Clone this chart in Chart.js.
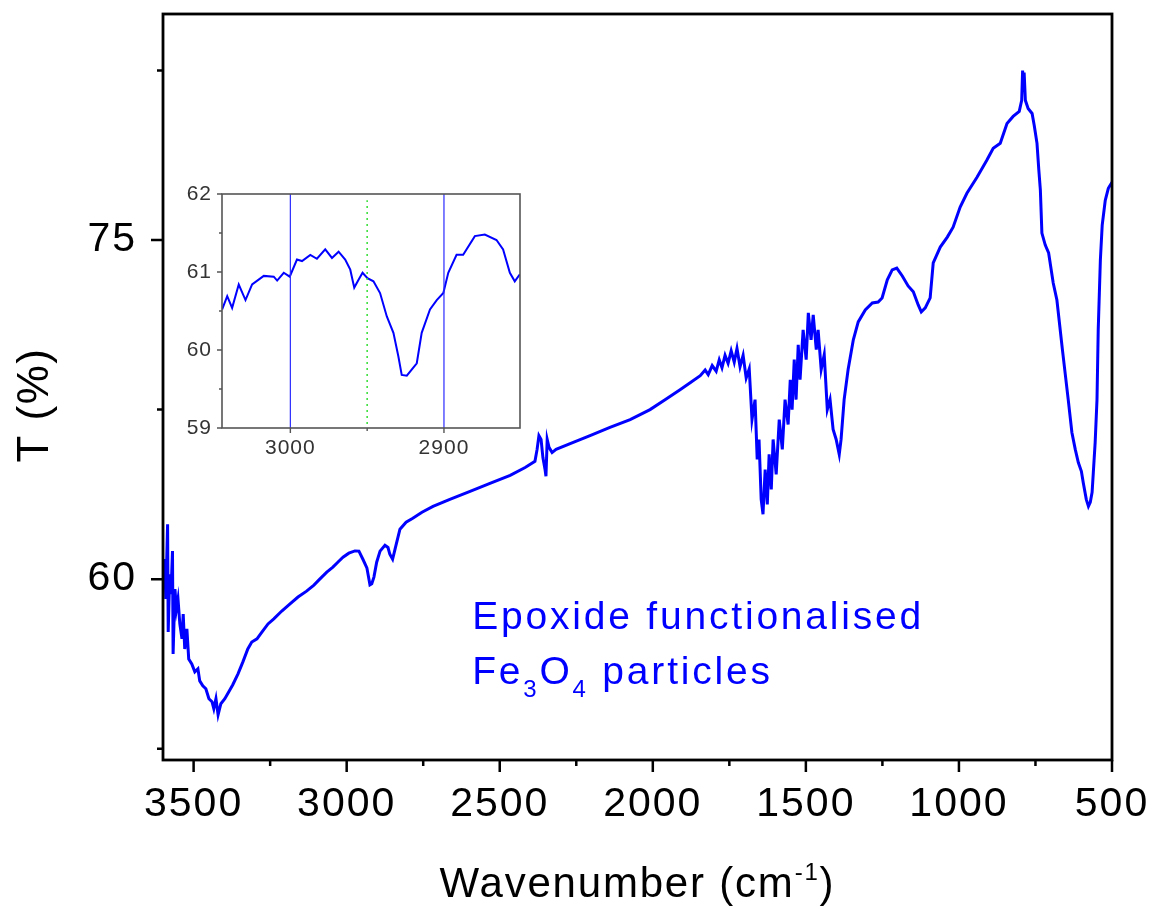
<!DOCTYPE html>
<html>
<head>
<meta charset="utf-8">
<title>FTIR spectrum – epoxide functionalised Fe3O4</title>
<script src="https://cdn.jsdelivr.net/npm/chart.js@4.4.0/dist/chart.umd.min.js"></script>
<style>
  html, body { margin: 0; padding: 0; background: #ffffff; }
  #wrap { position: relative; width: 1156px; height: 909px; }
  #main { position: absolute; left: 0; top: 0; }
  #inset { position: absolute; left: 170px; top: 180px; }
</style>
</head>
<body>
<div id="wrap">
  <canvas id="main" width="1156" height="909"></canvas>
  <canvas id="inset" width="360" height="280"></canvas>
</div>
<script>
// ---- Full spectrum: wavenumber (cm-1) and transmittance (%) ----
const wavenumber = [
  3600,3594,3591,3585,3583,3578,3574,3569,3567,3561,
  3556,3551,3545,3538,3534,3529,3522,3516,3506,3496,
  3486,3480,3470,3460,3450,3440,3434,3427,3420,3411,
  3398,3385,3372,3355,3339,3323,3310,3293,3277,3257,
  3238,3212,3186,3159,3131,3107,3088,3065,3045,3029,
  3012,2993,2973,2960,2947,2934,2924,2918,2911,2902,
  2891,2875,2865,2859,2850,2842,2826,2806,2784,2754,
  2718,2663,2597,2532,2466,2417,2385,2378,2372,2365,
  2359,2352,2349,2345,2339,2329,2316,2270,2205,2140,
  2074,2009,1960,1911,1878,1845,1829,1819,1806,1793,
  1783,1774,1764,1754,1744,1734,1725,1715,1705,1695,
  1685,1676,1666,1659,1653,1646,1640,1633,1626,1620,
  1613,1607,1597,1587,1577,1568,1558,1551,1545,1538,
  1532,1525,1519,1509,1499,1492,1483,1476,1466,1460,
  1450,1440,1430,1421,1411,1401,1391,1385,1375,1362,
  1345,1329,1306,1283,1264,1251,1234,1218,1203,1185,
  1166,1149,1133,1123,1110,1094,1084,1061,1038,1019,
  996,974,941,909,888,865,843,823,803,795,
  792,789,787,783,774,761,754,745,739,734,
  729,718,707,692,680,662,643,631,620,610,
  600,594,584,577,571,565,561,555,549,545,
  538,532,522,512,500
];
const transmittance = [
  59.56,60.89,59.12,62.43,57.66,60.22,59.34,61.24,56.69,59.56,
  58.68,59.12,58.02,57.36,58.46,56.91,57.80,56.47,56.25,55.90,
  56.03,55.50,55.28,55.15,54.71,54.58,54.27,54.71,54.00,54.49,
  54.71,55.02,55.33,55.81,56.34,56.91,57.22,57.36,57.66,58.02,
  58.24,58.59,58.90,59.21,59.47,59.74,60.00,60.31,60.53,60.75,
  60.97,61.15,61.25,61.24,60.88,60.50,59.75,59.80,60.09,60.75,
  61.24,61.50,61.40,61.10,60.88,61.33,62.21,62.52,62.69,62.96,
  63.22,63.53,63.88,64.24,64.59,64.94,65.21,65.74,66.35,66.18,
  65.38,64.85,64.55,66.18,65.83,65.60,65.74,66.00,66.35,66.71,
  67.06,67.50,67.94,68.38,68.69,69.00,69.25,69.05,69.45,69.20,
  69.70,69.35,69.90,69.55,70.10,69.60,70.20,69.40,69.90,68.90,
  69.30,67.06,67.94,65.30,66.18,63.53,62.87,64.85,63.31,65.52,
  63.97,66.18,64.63,67.06,65.74,67.94,66.84,68.82,67.50,69.71,
  67.94,70.37,68.82,71.03,69.71,71.78,70.59,71.69,70.15,71.03,
  69.27,69.93,67.50,67.94,66.62,66.18,65.52,66.18,67.94,69.27,
  70.59,71.38,71.91,72.22,72.26,72.44,73.24,73.68,73.76,73.41,
  72.97,72.71,72.13,71.82,72.00,72.44,73.99,74.69,75.13,75.57,
  76.46,77.07,77.78,78.53,79.06,79.28,80.16,80.47,80.69,81.18,
  82.50,81.62,82.41,81.18,80.82,80.60,80.07,79.28,78.09,77.21,
  75.31,74.78,74.43,73.10,72.35,70.15,67.94,66.49,65.74,65.16,
  64.77,64.28,63.53,63.22,63.40,63.84,64.72,66.05,67.94,71.03,
  74.12,75.66,76.76,77.29,77.56
];

// Main axis ticks
const xMajorTicks = [3500, 3000, 2500, 2000, 1500, 1000, 500];
const xMinorTicks = [3250, 2750, 2250, 1750, 1250, 750];
const yMajorTicks = [60, 75];
const yMinorTicks = [52.5, 67.5, 82.5];

// ---- C–H stretching region (inset) ----
const insetWavenumber = [
  3044.4,3041.1,3037.9,3033.6,3029.2,3024.9,3017.3,3010.8,3008.6,3004.3,
  3000.4,2995.7,2992.4,2987.0,2982.7,2977.3,2972.9,2968.6,2964.3,2961.0,
  2958.4,2955.6,2953.0,2949.8,2945.9,2941.6,2937.2,2932.9,2929.7,2927.5,
  2924.2,2917.7,2914.5,2909.1,2904.7,2900.4,2897.2,2891.8,2887.5,2879.9,
  2873.4,2865.8,2861.5,2857.1,2853.9,2850.6
];
const insetT = [
  60.52,60.69,60.54,60.84,60.64,60.84,60.95,60.94,60.89,60.99,
  60.94,61.16,61.14,61.22,61.17,61.29,61.18,61.26,61.16,61.03,
  60.80,60.90,60.99,60.92,60.88,60.73,60.43,60.22,59.92,59.68,
  59.67,59.83,60.22,60.52,60.64,60.73,60.99,61.22,61.22,61.46,
  61.48,61.41,61.29,60.99,60.88,60.97
];
const insetXMajorTicks = [3000, 2900];
const insetXMinorTicks = [2950];
const insetYMajorTicks = [59, 60, 61, 62];
const insetYMinorTicks = [59.5, 60.5, 61.5];
const insetMarkerLines = [3000, 2900];   // solid blue guides
const insetCentreLine = 2950;            // dotted green guide

// ---- Text ----
const xTitleRuns = [
  { text: 'Wavenumber (cm', size: 42 },
  { text: '-1', size: 24, dy: -17 },
  { text: ')', size: 42 }
];
const yTitle = 'T (%)';
const noteLine1 = [{ text: 'Epoxide functionalised', size: 39 }];
const noteLine2 = [
  { text: 'Fe', size: 39 },
  { text: '3', size: 24, dy: 13 },
  { text: 'O', size: 39 },
  { text: '4', size: 24, dy: 13 },
  { text: ' particles', size: 39 }
];

const FONT = "'Liberation Sans', Arial, Helvetica, sans-serif";
const BLUE = '#0000ff';

function toPoints(xs, ys) { return xs.map((v, i) => ({ x: v, y: ys[i] })); }
function fixedTicks(values) {
  return scale => { scale.ticks = values.slice().sort((a, b) => a - b).map(v => ({ value: v })); };
}
// fixed axis thickness, no extra room reserved for edge labels
function fixedSize(prop, size) {
  return scale => {
    scale[prop] = size;
    scale.paddingTop = 0; scale.paddingBottom = 0;
    scale.paddingLeft = 0; scale.paddingRight = 0;
  };
}

// writes a sequence of text runs (for super/subscripts)
function drawRuns(ctx, runs, x, y, align, spacing) {
  ctx.letterSpacing = spacing + 'px';
  let total = 0;
  runs.forEach(r => { ctx.font = r.size + 'px ' + FONT; total += ctx.measureText(r.text).width; });
  let cx = align === 'center' ? x - total / 2 : x;
  ctx.textAlign = 'left';
  ctx.textBaseline = 'alphabetic';
  runs.forEach(r => {
    ctx.font = r.size + 'px ' + FONT;
    ctx.fillText(r.text, cx, y + (r.dy || 0));
    cx += ctx.measureText(r.text).width;
  });
}

// frame round the plot area plus outward tick marks
const frameTicks = {
  id: 'frameTicks',
  beforeDraw(chart, args, o) { chart.ctx.letterSpacing = o.labelSpacing + 'px'; },
  afterDraw(chart, args, o) {
    const { ctx, chartArea: a } = chart;
    const sx = chart.scales.x, sy = chart.scales.y;
    ctx.save();
    ctx.strokeStyle = o.color;
    ctx.lineWidth = o.tickWidth;
    ctx.beginPath();
    const xt = (vals, len) => vals.forEach(v => {
      const p = sx.getPixelForValue(v);
      ctx.moveTo(p, a.bottom); ctx.lineTo(p, a.bottom + len);
    });
    const yt = (vals, len) => vals.forEach(v => {
      const p = sy.getPixelForValue(v);
      ctx.moveTo(a.left, p); ctx.lineTo(a.left - len, p);
    });
    xt(o.xMajor, o.major); xt(o.xMinor, o.minor);
    yt(o.yMajor, o.major); yt(o.yMinor, o.minor);
    ctx.stroke();
    ctx.lineWidth = o.frameWidth;
    ctx.strokeRect(a.left, a.top, a.right - a.left, a.bottom - a.top);
    ctx.restore();
  }
};

// axis titles and the sample note on the main chart
const mainText = {
  id: 'mainText',
  afterDraw(chart) {
    const { ctx, chartArea: a } = chart;
    const sx = chart.scales.x, sy = chart.scales.y;
    ctx.save();
    ctx.fillStyle = '#000000';
    drawRuns(ctx, xTitleRuns, (a.left + a.right) / 2, 897, 'center', 1.8);
    ctx.save();
    ctx.translate(48, 405);
    ctx.rotate(-Math.PI / 2);
    drawRuns(ctx, [{ text: yTitle, size: 44 }], 0, 0, 'center', 1.5);
    ctx.restore();
    ctx.fillStyle = BLUE;
    const nx = sx.getPixelForValue(2590);
    const ny = sy.getPixelForValue(57.8);
    drawRuns(ctx, noteLine1, nx, ny, 'left', 2.8);
    drawRuns(ctx, noteLine2, nx, ny + 55, 'left', 2.8);
    ctx.restore();
  }
};

new Chart(document.getElementById('main'), {
  type: 'scatter',
  data: {
    datasets: [{
      data: toPoints(wavenumber, transmittance),
      showLine: true,
      borderColor: BLUE,
      borderWidth: 3,
      pointRadius: 0,
      tension: 0
    }]
  },
  options: {
    responsive: false,
    animation: false,
    events: [],
    layout: { padding: { left: 0, right: 44, top: 14, bottom: 0 } },
    plugins: {
      legend: { display: false },
      tooltip: { enabled: false },
      frameTicks: {
        color: '#000000', tickWidth: 2.5, frameWidth: 2.8, major: 12, minor: 6, labelSpacing: 2,
        xMajor: xMajorTicks, xMinor: xMinorTicks, yMajor: yMajorTicks, yMinor: yMinorTicks
      }
    },
    scales: {
      x: {
        type: 'linear', reverse: true, min: 500, max: 3600,
        afterBuildTicks: fixedTicks(xMajorTicks.concat(xMinorTicks)),
        afterFit: fixedSize('height', 149),
        grid: { display: false, drawTicks: false },
        border: { display: false },
        ticks: {
          autoSkip: false, maxRotation: 0, padding: 20, color: '#000000',
          font: { family: FONT, size: 41 },
          callback: v => xMajorTicks.includes(v) ? String(v) : ''
        }
      },
      y: {
        type: 'linear', min: 52, max: 85,
        afterBuildTicks: fixedTicks(yMajorTicks.concat(yMinorTicks)),
        afterFit: fixedSize('width', 163),
        grid: { display: false, drawTicks: false },
        border: { display: false },
        ticks: {
          autoSkip: false, padding: 26, color: '#000000',
          font: { family: FONT, size: 41 },
          callback: v => yMajorTicks.includes(v) ? String(v) : ''
        }
      }
    }
  },
  plugins: [frameTicks, mainText]
});

// ---- inset chart ----
const guideSets = insetMarkerLines.map(w => ({
  data: [{ x: w, y: 59 }, { x: w, y: 62 }],
  showLine: true, borderColor: '#2a2aff', borderWidth: 1.2, pointRadius: 0
}));
guideSets.push({
  data: [{ x: insetCentreLine, y: 59.05 }, { x: insetCentreLine, y: 61.92 }],
  showLine: true, borderColor: '#33dd33', borderWidth: 1.5, borderDash: [2, 4], pointRadius: 0
});

new Chart(document.getElementById('inset'), {
  type: 'scatter',
  data: {
    datasets: guideSets.concat([{
      data: toPoints(insetWavenumber, insetT),
      showLine: true, borderColor: BLUE, borderWidth: 2, pointRadius: 0, tension: 0
    }])
  },
  options: {
    responsive: false,
    animation: false,
    events: [],
    layout: { padding: { left: 0, right: 10, top: 14, bottom: 0 } },
    plugins: {
      legend: { display: false },
      tooltip: { enabled: false },
      frameTicks: {
        color: '#555555', tickWidth: 1.4, frameWidth: 1.6, major: 5, minor: 3, labelSpacing: 1,
        xMajor: insetXMajorTicks, xMinor: insetXMinorTicks, yMajor: insetYMajorTicks, yMinor: insetYMinorTicks
      }
    },
    scales: {
      x: {
        type: 'linear', reverse: true, min: 2850.5, max: 3044.5,
        afterBuildTicks: fixedTicks(insetXMajorTicks.concat(insetXMinorTicks)),
        afterFit: fixedSize('height', 32),
        grid: { display: false, drawTicks: false },
        border: { display: false },
        ticks: {
          autoSkip: false, maxRotation: 0, padding: 8, color: '#333333',
          font: { family: FONT, size: 21 },
          callback: v => insetXMajorTicks.includes(v) ? String(v) : ''
        }
      },
      y: {
        type: 'linear', min: 59, max: 62,
        afterBuildTicks: fixedTicks(insetYMajorTicks.concat(insetYMinorTicks)),
        afterFit: fixedSize('width', 52),
        grid: { display: false, drawTicks: false },
        border: { display: false },
        ticks: {
          autoSkip: false, padding: 10, color: '#333333',
          font: { family: FONT, size: 21 },
          callback: v => insetYMajorTicks.includes(v) ? String(v) : ''
        }
      }
    }
  },
  plugins: [frameTicks]
});
</script>
</body>
</html>
